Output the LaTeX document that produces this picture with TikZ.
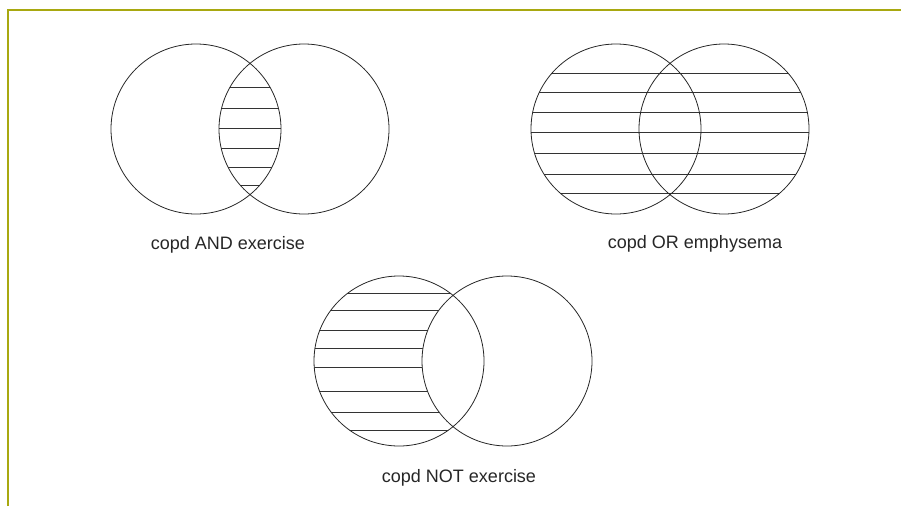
\documentclass[tikz,border=0pt]{standalone}
\usepackage{fontspec}
\setmainfont{Liberation Sans}
\definecolor{frameolive}{RGB}{168,168,16}
\tikzset{
  venn/.style={draw=black!85, line width=0.8pt},
  hatch/.style={draw=black!80, line width=0.9pt},
  vlabel/.style={anchor=base, text=black!85, font=\fontsize{18}{20}\selectfont},
}
\begin{document}
\begin{tikzpicture}[x=1pt,y=-1pt]
\useasboundingbox (0,0) rectangle (901,506);
\draw[frameolive, line width=1.5pt] (8,506) -- (8,10) -- (901,10);
% AND
\coordinate (andL) at (196,129);
\coordinate (andR) at (304,129);
\begin{scope}
\clip (andL) circle[radius=85pt];
\clip (andR) circle[radius=85pt];
\foreach \y in {87,108,128,148,167,185}
  \draw[hatch] (210,\y) -- (290,\y);
\end{scope}
\draw[venn] (andL) circle[radius=85pt];
\draw[venn] (andR) circle[radius=85pt];
\node[vlabel] (andtxt) at (228,249) {copd AND exercise};
% OR
\coordinate (orL) at (616,129);
\coordinate (orR) at (724,129);
\foreach \c in {orL,orR}{
  \begin{scope}
  \clip (\c) circle[radius=85pt];
  \foreach \y in {73,92,112,132,153,174,193}
    \draw[hatch] (520,\y) -- (820,\y);
  \end{scope}
}
\draw[venn] (orL) circle[radius=85pt];
\draw[venn] (orR) circle[radius=85pt];
\node[vlabel] (ortxt) at (695,248) {copd OR emphysema};
% NOT
\coordinate (notL) at (399,361);
\coordinate (notR) at (507,361);
\begin{scope}
\clip (notL) circle[radius=85pt];
\foreach \y in {293,310,330,348,367,391,412,430}
  \draw[hatch] (300,\y) -- (500,\y);
\end{scope}
\fill[white] (notR) circle[radius=85pt];
\draw[venn] (notL) circle[radius=85pt];
\draw[venn] (notR) circle[radius=85pt];
\node[vlabel] (nottxt) at (459,482) {copd NOT exercise};
\end{tikzpicture}
\end{document}
